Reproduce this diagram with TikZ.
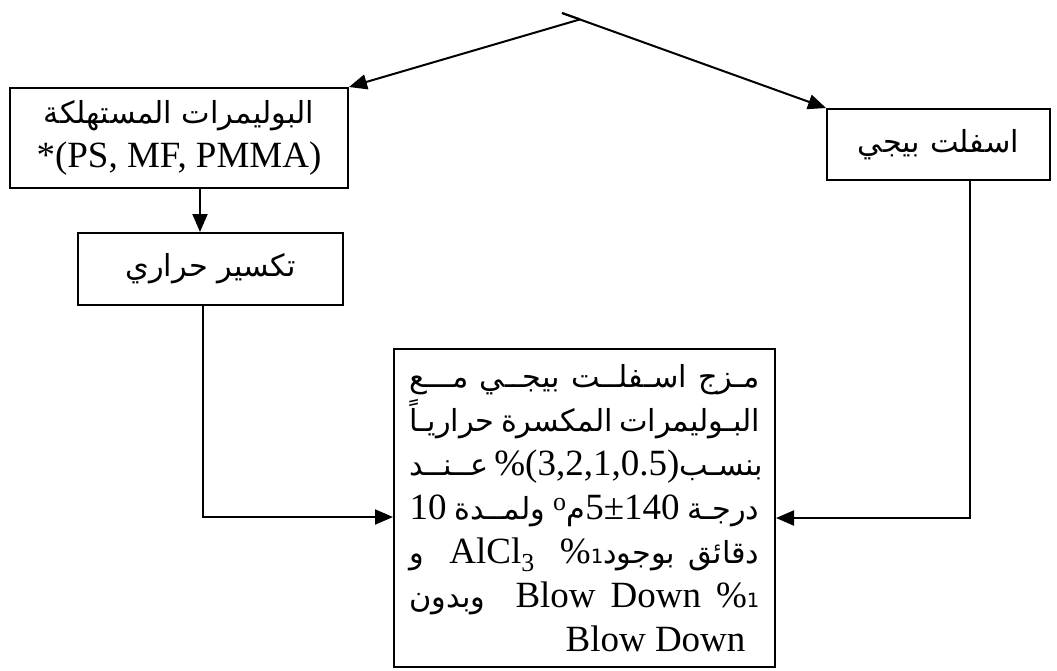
\documentclass[tikz,border=0pt]{standalone}
\usepackage{fontspec}
\setmainfont{Liberation Serif}
\newfontfamily\arabicfont[Script=Arabic,Scale=0.82]{DejaVu Sans}
\TeXXeTstate=1
\usetikzlibrary{arrows.meta}
\newcommand\artxt[1]{{\arabicfont #1}}
\newcommand\smallone{{\arabicfont\fontsize{24}{24}\selectfont 1}}
\newcommand\jline[1]{\hbox to 350pt{\beginR#1\endR}}
\newcommand\boxfont{\fontsize{37}{44}\selectfont\lineskiplimit=-60pt\relax}
\tikzset{
  box/.style={draw, line width=2pt, inner sep=0pt, font=\boxfont},
  arr/.style={line width=2pt, -{Triangle[length=18pt,width=15pt]}}
}

\begin{document}
\begin{tikzpicture}[x=1pt,y=-1pt]
\useasboundingbox (0,0) rectangle (1057,670);
\node[box, minimum width=338pt, minimum height=100pt, align=center] (poly) at (179,138)
  {\beginR\artxt{البوليمرات المستهلكة}\endR\\\relax *(PS, MF, PMMA)};
\node[box, minimum width=265pt, minimum height=72pt] (crack) at (210.5,269)
  {\beginR\artxt{تكسير حراري}\endR};
\node[box, minimum width=223pt, minimum height=71pt] (asph) at (938.5,144.5)
  {\beginR\artxt{اسفلت بيجي}\endR};
\node[box, minimum width=381pt, minimum height=318pt, align=right] (mix) at (584.5,508)
  {\jline{\artxt{مـزج اسـفلــت بيجــي مـــع}}\\
   \jline{\artxt{البـوليمرات المكسرة حراريـاً}}\\
   \jline{\artxt{بنسـب}\beginL\%(3,2,1,0.5)\endL\ \artxt{عــنــد}}\\
   \jline{\artxt{درجـة}\ \beginL 5±140\endL\artxt{م}\beginL\textsuperscript{o}\endL\ \artxt{ولمــدة}\ \beginL 10\endL}\\
   \jline{\artxt{دقائق بوجود}\beginL\%\smallone\endL\ \ \beginL AlCl\textsubscript{3}\endL\ \ \artxt{و}}\\
   \jline{\beginL Blow Down \%\smallone\endL\ \ \artxt{وبدون}}\\
   \hbox to 350pt{\hfill Blow Down\hspace*{14pt}}};
\coordinate (top) at (562,13);
\coordinate (split) at (580,19.4);
\draw[line width=2pt] (top) -- (split);
\draw[arr] (split) -- (poly.north east);
\draw[arr] (top) -- (asph.north west);
\draw[arr] ([xshift=21pt]poly.south) -- ([xshift=21pt]poly.south |- crack.north);
\draw[arr] ([xshift=-7.5pt]crack.south) |- ([yshift=-9pt]mix.west);
\draw[arr] ([xshift=31.5pt]asph.south) |- ([yshift=-10pt]mix.east);
\end{tikzpicture}
\end{document}
